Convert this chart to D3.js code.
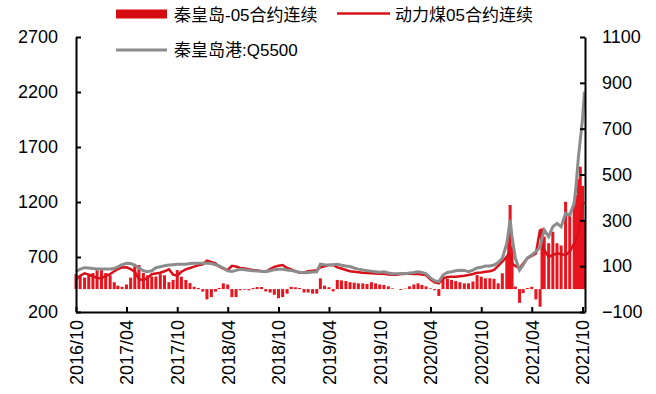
<!DOCTYPE html>
<html>
<head>
<meta charset="utf-8">
<script src="https://cdn.jsdelivr.net/npm/d3@7"></script>
<style>
  body { margin: 0; background: #fff; }
  svg text { font-family: "Liberation Sans", Arial, "Noto Sans CJK SC", sans-serif; fill: #000; }
</style>
</head>
<body>
<svg id="chart" width="656" height="394"></svg>
<script>
// dates (roughly half-monthly, denser at the end)
const dates = [
  '2016-10-01','2016-10-16','2016-11-01','2016-11-16','2016-12-01','2016-12-16',
  '2017-01-01','2017-01-16','2017-02-01','2017-02-16','2017-03-01','2017-03-16',
  '2017-04-01','2017-04-16','2017-05-01','2017-05-16','2017-06-01','2017-06-16',
  '2017-07-01','2017-07-16','2017-08-01','2017-08-16','2017-09-01','2017-09-16',
  '2017-10-01','2017-10-16','2017-11-01','2017-11-16','2017-12-01','2017-12-16',
  '2018-01-01','2018-01-16','2018-02-01','2018-02-16','2018-03-01','2018-03-16',
  '2018-04-01','2018-04-16','2018-05-01','2018-05-16','2018-06-01','2018-06-16',
  '2018-07-01','2018-07-16','2018-08-01','2018-08-16','2018-09-01','2018-09-16',
  '2018-10-01','2018-10-16','2018-11-01','2018-11-16','2018-12-01','2018-12-16',
  '2019-01-01','2019-01-16','2019-02-01','2019-02-16','2019-03-01','2019-03-16',
  '2019-04-01','2019-04-16','2019-05-01','2019-05-16','2019-06-01','2019-06-16',
  '2019-07-01','2019-07-16','2019-08-01','2019-08-16','2019-09-01','2019-09-16',
  '2019-10-01','2019-10-16','2019-11-01','2019-11-16','2019-12-01','2019-12-16',
  '2020-01-01','2020-01-16','2020-02-01','2020-02-16','2020-03-01','2020-03-16',
  '2020-04-01','2020-04-16','2020-05-01','2020-05-16','2020-06-01','2020-06-16',
  '2020-07-01','2020-07-16','2020-08-01','2020-08-16','2020-09-01','2020-09-16',
  '2020-10-01','2020-10-16','2020-11-01','2020-11-16','2020-12-01','2020-12-16',
  '2021-01-01','2021-01-08','2021-01-13','2021-01-20','2021-02-01','2021-02-16',
  '2021-03-01','2021-03-16','2021-04-01','2021-04-16','2021-05-01','2021-05-08',
  '2021-05-16','2021-06-01','2021-06-16','2021-07-01','2021-07-16','2021-08-01',
  '2021-08-16','2021-09-01','2021-09-08','2021-09-16','2021-09-23','2021-10-01',
  '2021-10-08'
]

// 秦皇岛港:Q5500 (left axis)
const spot = [
  566,590,603,600,595,592, 591,591,591,595,610,630, 643,640,627,600,575,566,
  575,603,612,620,627,630, 633,633,635,640,643,643, 643,643,640,630,620,600,
  575,569,578,588,585,580, 575,572,570,566,575,585, 588,588,582,577,570,562,
  557,560,563,566,636,630, 627,630,633,625,618,613, 600,590,582,576,570,566,
  562,566,555,548,548,550, 548,555,560,566,560,548, 510,485,476,536,560,566,
  575,580,578,566,580,600, 606,618,618,627,650,688,
  824,945,1036,885,688,582, 627,690,718,748,790,870,
  945,885,975,1006,975,1097, 1082,1188,1354,1600,1764,1950,
  2203
]

// 动力煤05合约连续 (left axis)
const futures = [
  497,530,552,540,525,510, 506,527,545,570,590,605, 606,590,566,497,491,510,
  543,550,557,570,588,540, 530,566,588,600,613,625, 633,667,655,643,613,595,
  582,620,613,600,595,588, 582,578,570,566,590,610, 620,627,600,588,570,556,
  560,570,575,580,606,615, 627,627,606,595,582,570, 566,562,557,555,552,550,
  548,548,540,539,539,545, 548,548,545,545,540,536, 495,470,461,506,518,521,
  521,525,530,536,545,557, 560,566,570,582,620,657,
  703,733,720,642,618,597, 640,688,710,733,950,830,
  764,700,718,733,725,718, 748,824,870,915,1010,1180,
  1200
]

// 秦皇岛-05合约连续 basis (right axis)
const basis = [
  65,60,50,60,70,82, 83,70,60,30,15,10, 20,50,100,105,70,60,
  55,55,65,60,30,40, 83,54,40,26,10,5, -11,-45,-35,-11,5,25,
  20,-35,-35,-5,-3,-5, 5,9,9,-10,-15,-25, -40,-35,-20,10,8,5,
  -15,-15,-20,-20,47,15, 8,-10,40,38,35,30, 28,25,25,22,30,25,
  20,18,12,3,0,-4, 2,12,20,25,18,12, 3,-5,-30,54,45,40,
  35,30,25,25,33,61, 54,47,47,45,25,69,
  141,250,367,185,11,-60, -18,5,10,-45,-77,265,
  229,200,250,200,190,381, 331,360,410,480,534,450,
  300
]

const yLeftTicks = [200, 700, 1200, 1700, 2200, 2700]
const yRightTicks = [-100, 100, 300, 500, 700, 900, 1100]
const xTickLabels = ['2016/10','2017/04','2017/10','2018/04','2018/10','2019/04',
  '2019/10','2020/04','2020/10','2021/04','2021/10']

const parseDay = d3.timeParse('%Y-%m-%d')
const parseTick = d3.timeParse('%Y/%m')

const data = dates.map((d, i) => ({
  date: parseDay(d),
  spot: spot[i],
  futures: futures[i],
  basis: basis[i]
}))

const plotL = 76, plotR = 585, plotT = 37, plotB = 312

const x = d3.scaleTime()
  .domain([parseDay('2016-10-01'), parseDay('2021-10-10')])
  .range([plotL, plotR])

const yL = d3.scaleLinear().domain([200, 2700]).range([plotB, plotT])
const yR = d3.scaleLinear().domain([-100, 1100]).range([plotB, plotT])

const svg = d3.select('#chart')

const red = '#d8101a'
const grey = '#8c8c8c'

// bars
svg.append('g')
  .selectAll('rect')
  .data(data)
  .enter()
  .append('rect')
  .attr('x', d => x(d.date) - 1.5)
  .attr('width', 3)
  .attr('y', d => Math.min(yR(d.basis), yR(0)))
  .attr('height', d => Math.abs(yR(d.basis) - yR(0)))
  .attr('fill', '#e8141e')

const lineFut = d3.line().x(d => x(d.date)).y(d => yL(d.futures))
const lineSpot = d3.line().x(d => x(d.date)).y(d => yL(d.spot))

svg.append('path')
  .datum(data)
  .attr('d', lineFut)
  .attr('fill', 'none')
  .attr('stroke', red)
  .attr('stroke-width', 2.5)

svg.append('path')
  .datum(data)
  .attr('d', lineSpot)
  .attr('fill', 'none')
  .attr('stroke', grey)
  .attr('stroke-width', 3)

// axes
const axL = svg.append('g')
  .attr('transform', `translate(${plotL},0)`)
  .call(d3.axisLeft(yL).tickValues(yLeftTicks).tickFormat(d3.format('d'))
    .tickSizeInner(-5).tickSizeOuter(0).tickPadding(18))

const axR = svg.append('g')
  .attr('transform', `translate(${plotR},0)`)
  .call(d3.axisRight(yR).tickValues(yRightTicks).tickFormat(d3.format('d'))
    .tickSizeInner(-5).tickSizeOuter(0).tickPadding(17))

const axB = svg.append('g')
  .attr('transform', `translate(0,${plotB})`)
  .call(d3.axisBottom(x).tickValues(xTickLabels.map(parseTick)).tickFormat(d3.timeFormat('%Y/%m'))
    .tickSizeInner(-5).tickSizeOuter(0))

axB.selectAll('text')
  .attr('y', 0)
  .attr('x', -8)
  .attr('dy', '0.35em')
  .attr('transform', 'rotate(-90)')
  .style('text-anchor', 'end')

;[axL, axR, axB].forEach(a => {
  a.select('.domain').attr('stroke', '#000').attr('stroke-width', 2)
  a.selectAll('.tick line').attr('stroke', '#000').attr('stroke-width', 2)
  a.selectAll('text').attr('font-size', 18).attr('font-family', '"Liberation Sans", Arial, sans-serif')
})

// legend
const legend = svg.append('g').attr('font-size', 17)

legend.append('rect')
  .attr('x', 116).attr('y', 9.5).attr('width', 51).attr('height', 9)
  .attr('fill', '#d50d12')
legend.append('text').attr('x', 174).attr('y', 15).attr('dy', '0.35em').text('秦皇岛-05合约连续')

legend.append('line')
  .attr('x1', 337).attr('x2', 390).attr('y1', 13.5).attr('y2', 13.5)
  .attr('stroke', red).attr('stroke-width', 2.5)
legend.append('text').attr('x', 395).attr('y', 15).attr('dy', '0.35em').text('动力煤05合约连续')

legend.append('line')
  .attr('x1', 116).attr('x2', 167).attr('y1', 50).attr('y2', 50)
  .attr('stroke', grey).attr('stroke-width', 3)
legend.append('text').attr('x', 174).attr('y', 50).attr('dy', '0.35em').text('秦皇岛港:Q5500')
</script>
</body>
</html>
